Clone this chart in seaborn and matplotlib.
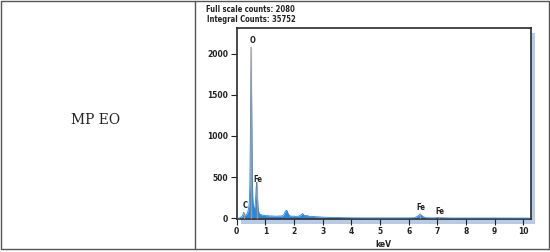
import matplotlib
matplotlib.use("Agg")
import matplotlib.pyplot as plt
from matplotlib.patches import Rectangle
from matplotlib.lines import Line2D
import seaborn as sns
import pandas as pd

# ---- data ----
energy_kev = [0.00, 0.10, 0.12, 0.14, 0.16, 0.18, 0.20, 0.22, 0.24, 0.26, 0.28, 0.30,
              0.32, 0.34, 0.36, 0.38, 0.40, 0.42, 0.44, 0.46, 0.48, 0.50, 0.52, 0.54,
              0.56, 0.58, 0.60, 0.62, 0.64, 0.66, 0.68, 0.70, 0.72, 0.74, 0.76, 0.78,
              0.80, 0.82, 0.84, 0.86, 0.88, 0.90, 0.92, 0.94, 0.96, 0.98, 1.00,
              1.05, 1.10, 1.15, 1.20, 1.25, 1.30, 1.35, 1.40, 1.45, 1.50, 1.55, 1.60,
              1.65, 1.70, 1.75, 1.80, 1.85, 1.90, 1.95, 2.00, 2.05, 2.10, 2.15, 2.20,
              2.25, 2.30, 2.35, 2.40, 2.45, 2.50, 2.55, 2.60, 2.65, 2.70, 2.75, 2.80,
              2.85, 2.90, 2.95, 3.00, 3.10, 3.20, 3.30, 3.40, 3.50, 3.60, 3.70, 3.80,
              3.90, 4.00, 4.50, 5.00, 5.50, 6.00, 6.20, 6.30, 6.40, 6.50, 6.60, 6.90,
              7.00, 7.06, 7.12, 7.50, 8.00, 9.00, 10.20]
counts = [0, 0, 5, 10, 15, 20, 30, 45, 70, 60, 40, 35,
          40, 45, 55, 70, 95, 130, 200, 420, 1100, 2080, 1500, 600,
          250, 150, 120, 110, 150, 230, 380, 436, 300, 150, 90, 60,
          50, 45, 40, 42, 38, 35, 33, 36, 32, 30, 32,
          28, 30, 25, 27, 24, 26, 22, 25, 23, 27, 24, 30,
          45, 85, 95, 50, 28, 25, 22, 24, 20, 23, 21, 30,
          40, 55, 35, 28, 32, 25, 20, 22, 18, 20, 16, 17,
          15, 14, 13, 12, 10, 9, 8, 7, 6, 6, 5, 4,
          4, 3, 2, 2, 2, 2, 4, 20, 50, 18, 4, 2,
          5, 8, 3, 1, 1, 1, 0]

element_names = ["C", "O", "Fe", "Fe", "Fe"]
element_kev = [0.24, 0.50, 0.70, 6.40, 7.06]
marker_top = [80, 2080, 436, 50, 8]
label_y = [150, 2160, 470, 135, 85]

y_ticks = [0, 500, 1000, 1500, 2000]
x_ticks = [0, 1, 2, 3, 4, 5, 6, 7, 8, 9, 10]
header_lines = ["Full scale counts: 2080", "Integral Counts: 35752"]
row_label = "MP EO"

spec = pd.DataFrame({"keV": energy_kev, "counts": counts})

sns.set_theme(style="white")
plt.rcParams["font.family"] = ["DejaVu Sans"]

W, H = 550, 252
fig = plt.figure(figsize=(W / 100, H / 100), dpi=100)
fig.patch.set_facecolor("white")

# table frame
fc = "#555555"
for xs, ys in [((1, 549), (1, 1)), ((1, 549), (249, 249)), ((1, 1), (1, 249)),
               ((549, 549), (1, 249)), ((195, 195), (1, 249))]:
    fig.add_artist(Line2D([x / W for x in xs], [1 - y / H for y in ys],
                          color=fc, lw=1.0, transform=fig.transFigure))

fig.text(96 / W, 1 - 120 / H, row_label, family="DejaVu Serif", fontsize=10,
         ha="center", va="center", color="#222222")

# axes
left, right, top, bottom = 236.7, 530.7, 28, 218.5
ax = fig.add_axes([left / W, 1 - bottom / H, (right - left) / W, (bottom - top) / H])

# shadow
fig.patches.append(Rectangle(((left + 4) / W, 1 - (bottom + 5) / H),
                             (right - left) / W, (bottom - top) / H,
                             transform=fig.transFigure, facecolor="#b7cbe6",
                             edgecolor="none", zorder=-5))
ax.set_facecolor("white")

blue = "#2a86df"
ax.fill_between(spec["keV"], 0, spec["counts"], color=blue, lw=0, zorder=2)
sns.lineplot(data=spec, x="keV", y="counts", ax=ax, color=blue, lw=0.6, zorder=3)

for name, e, t, ly in zip(element_names, element_kev, marker_top, label_y):
    ax.plot([e, e], [0, t], color="#f2a35a", lw=1.0, alpha=0.6, zorder=4)
    ax.text(e + 0.04, ly, name, fontsize=5.5, fontweight="bold", ha="center",
            va="center", color="#222222", family="DejaVu Sans", stretch="condensed")

ax.set_xlim(0, 10.26)
ax.set_ylim(-5, 2315)
ax.set_xticks(x_ticks)
ax.set_xticklabels([str(v) for v in x_ticks])
ax.set_yticks(y_ticks)
ax.set_yticklabels([str(v) for v in y_ticks])
ax.tick_params(direction="out", length=4, width=0.8, labelsize=5.5, pad=2,
               colors="#222222", bottom=True, left=True)
for lab in ax.get_xticklabels() + ax.get_yticklabels():
    lab.set_fontweight("bold")
ax.set_xlabel("keV", fontsize=5.5, fontweight="bold", labelpad=3, color="#222222")
ax.set_ylabel("")
for s in ax.spines.values():
    s.set_color("#2b2b2b")
    s.set_linewidth(1.2)

fig.text(206 / W, 1 - 10 / H, header_lines[0], fontsize=5.5, fontweight="bold",
         ha="left", va="center", color="#222222", stretch="condensed")
fig.text(207 / W, 1 - 20 / H, header_lines[1], fontsize=5.5, fontweight="bold",
         ha="left", va="center", color="#222222", stretch="condensed")

fig.savefig("out.png", dpi=100, facecolor="white")
